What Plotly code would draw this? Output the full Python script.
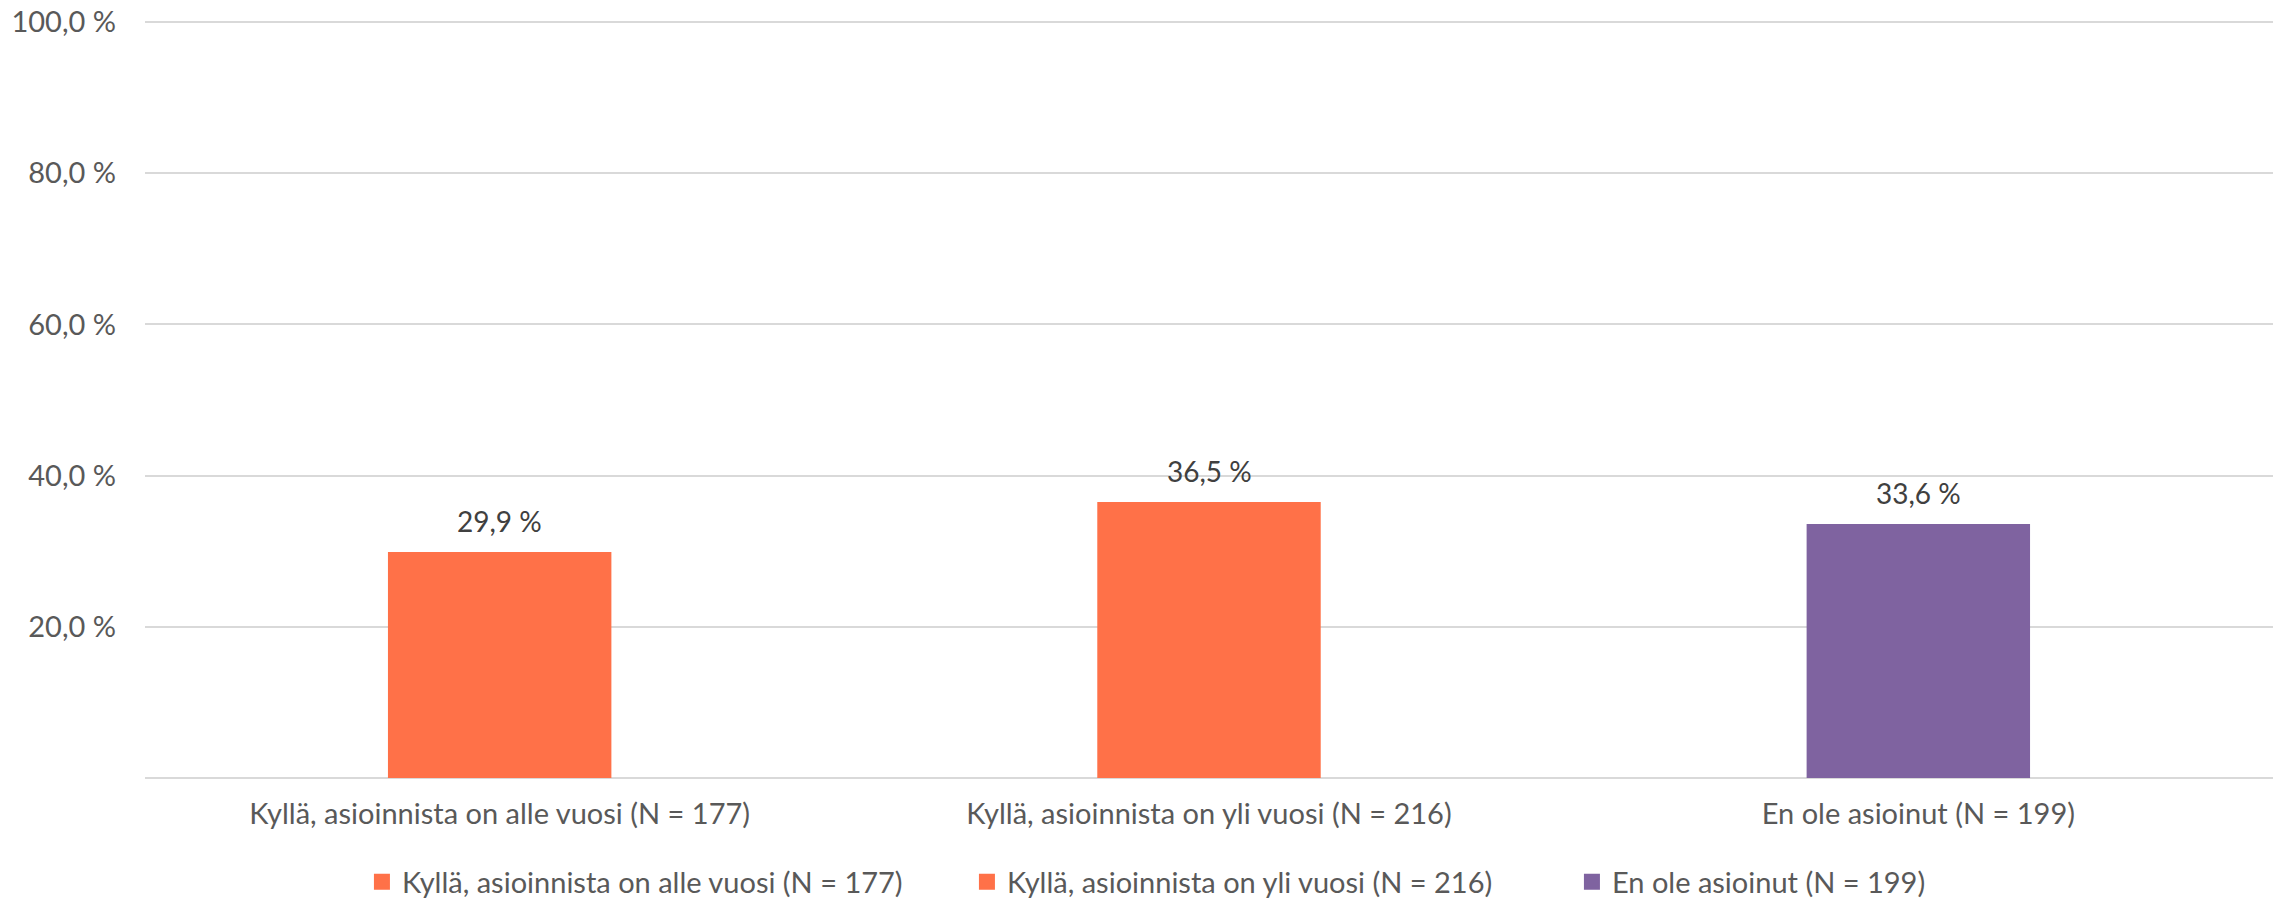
import plotly.graph_objects as go

# Share of respondents by contact history
categories = [
    "Kyllä, asioinnista on alle vuosi (N = 177)",
    "Kyllä, asioinnista on yli vuosi (N = 216)",
    "En ole asioinut (N = 199)",
]
values = [29.9, 36.5, 33.6]
colors = ["#FF7148", "#FF7148", "#7F63A0"]

y_ticks = [20, 40, 60, 80, 100]
y_tick_labels = ["20,0 %", "40,0 %", "60,0 %", "80,0 %", "100,0 %"]

FONT = "Lato"
TEXT_SIZE = 29
W, H = 2280, 899


def fmt(v):
    return f"{v:.1f}".replace(".", ",") + " %"


fig = go.Figure()
for cat, val, col in zip(categories, values, colors):
    fig.add_trace(go.Bar(
        x=[cat], y=[val], name=cat, showlegend=False,
        marker=dict(color=col, line=dict(width=0)),
        width=0.315,
    ))

# legend keys drawn as square markers
for cat, col in zip(categories, colors):
    fig.add_trace(go.Scatter(
        x=[None], y=[None], name=cat, mode="markers",
        marker=dict(symbol="square", size=16, color=col),
    ))

for cat, val in zip(categories, values):
    fig.add_annotation(
        x=cat, y=val, text=fmt(val), showarrow=False,
        yanchor="bottom", yshift=12,
        font=dict(family=FONT, size=28, color="#404040"),
    )

fig.update_layout(
    width=W, height=H,
    margin=dict(l=145, r=7, t=19, b=121, autoexpand=False),
    paper_bgcolor="white", plot_bgcolor="white",
    barmode="overlay",
    font=dict(family=FONT, size=TEXT_SIZE, color="#595959"),
    showlegend=True,
    legend=dict(
        orientation="h", x=0.5284, xanchor="center",
        y=-0.1370, yanchor="middle",
        font=dict(family=FONT, size=TEXT_SIZE, color="#595959"),
        itemwidth=30, traceorder="normal",
        entrywidth=560, entrywidthmode="pixels",
    ),
)
# small headroom above 100 % so the top gridline is drawn
fig.update_yaxes(
    range=[0, 100.4], tickvals=y_ticks, ticktext=y_tick_labels,
    showgrid=True, gridcolor="#D9D9D9", gridwidth=1.5,
    zeroline=True, zerolinecolor="#D9D9D9", zerolinewidth=1.5,
    ticks="", ticklabelstandoff=28, automargin=False,
    tickfont=dict(family=FONT, size=TEXT_SIZE, color="#595959"),
)
fig.update_xaxes(
    showgrid=False, ticks="", ticklabelstandoff=16, automargin=False,
    tickfont=dict(family=FONT, size=TEXT_SIZE, color="#595959"),
)

fig.write_html("out.html")
